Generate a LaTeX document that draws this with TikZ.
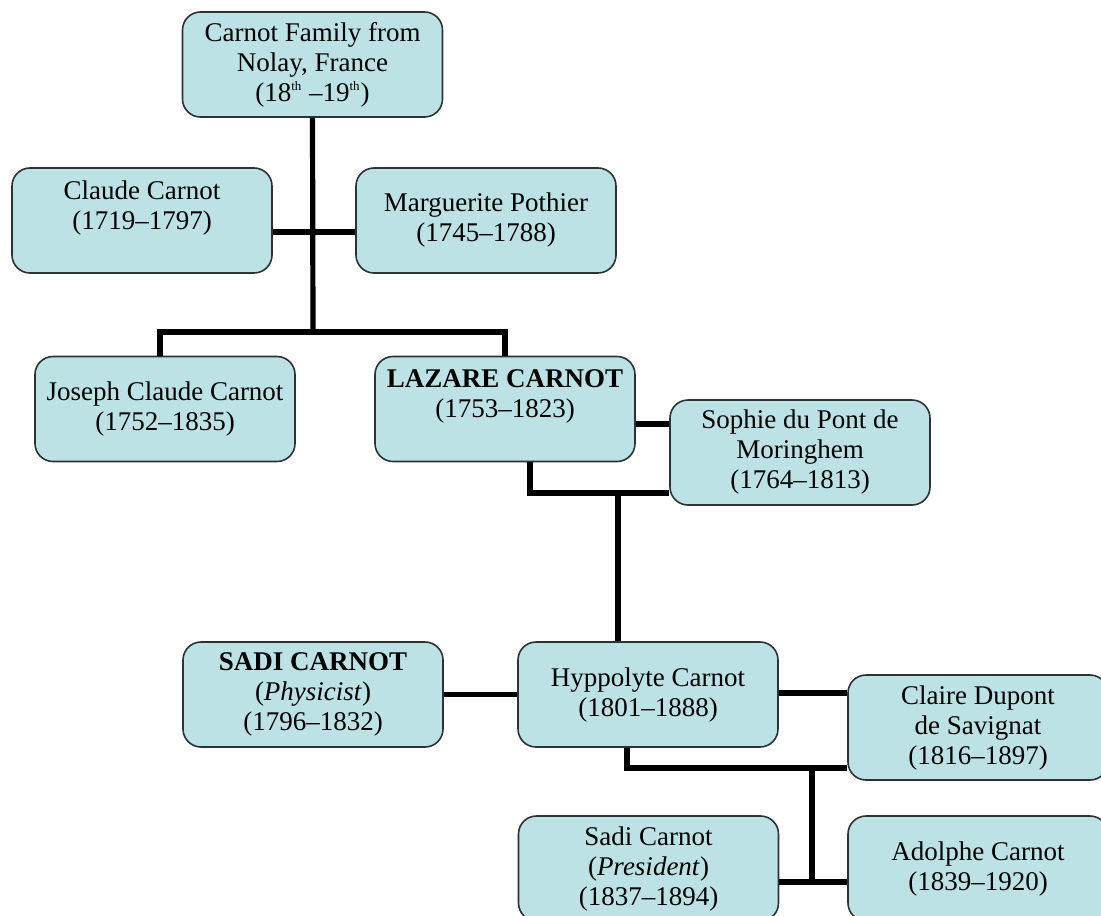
\documentclass[tikz,border=0pt]{standalone}
\usepackage{fontspec}
\setmainfont{Liberation Serif}
\definecolor{boxfill}{RGB}{188,226,229}
\definecolor{boxline}{RGB}{45,50,50}
\newcommand{\supth}{\textsuperscript{\fontsize{6.5}{6.5}\selectfont th}}

\begin{document}
\begin{tikzpicture}[x = 0.5pt, y = -0.5pt,
    person/.style = {shape = rectangle, rounded corners = 9pt, draw = boxline, line width = 0.8pt,
        fill = boxfill, minimum width = 130pt, minimum height = 52.5pt, inner sep = 2pt,
        align = center, font = \fontsize{13.5}{15}\selectfont},
    link/.style = {line width = 2.6pt}]
    \useasboundingbox (0,0) rectangle (1101,915);

    \node [person] (F) at (312.5,64.5) {Carnot Family from\\ Nolay, France\\ (18\supth{} --19\supth)};
    \node [person] (CC) at (142,220.5) {Claude Carnot\\ (1719--1797)\\ ~};
    \node [person] (MP) at (486,220.5) {Marguerite Pothier\\ (1745--1788)};
    \node [person] (JC) at (165,409) {Joseph Claude Carnot\\ (1752--1835)};
    \node [person] (LC) at (505,409) {\textbf{LAZARE CARNOT}\\ (1753--1823)\\ ~};
    \node [person] (SP) at (800,452.5) {Sophie du Pont de\\ Moringhem\\ (1764--1813)};
    \node [person] (SC) at (313,694.5) {\textbf{SADI CARNOT}\\ (\textit{Physicist})\\ (1796--1832)};
    \node [person] (HC) at (648,694.5) {Hyppolyte Carnot\\ (1801--1888)};
    \node [person] (CD) at (978,727.5) {Claire Dupont\\ de Savignat\\ (1816--1897)};
    \node [person] (SPr) at (648.5,868.5) {Sadi Carnot\\ (\textit{President})\\ (1837--1894)};
    \node [person] (AC) at (978,868.5) {Adolphe Carnot\\ (1839--1920)};

    \coordinate (fj) at (313,332);
    \coordinate (lj) at (618,493);
    \coordinate (hj) at (812,768);
    \coordinate (kj) at (812,882);

    \draw [link] (F.south) -- (fj);
    \draw [link] ([yshift = -5.75pt]CC.east) -- ([yshift = -5.75pt]MP.west);
    \draw [link] (fj) -| ([xshift = -2.5pt]JC.north);
    \draw [link] (fj) -| (LC.north);
    \draw [link] ([yshift = -7.5pt]LC.east) -- ([yshift = -7.5pt]LC.east -| SP.west);
    \draw [link] ([xshift = 12.5pt]LC.south) |- (lj -| SP.west);
    \draw [link] (lj) -- (lj |- HC.north);
    \draw [link] (SC.east) -- (HC.west);
    \draw [link] ([yshift = 0.75pt]HC.east) -- ([yshift = 0.75pt]HC.east -| CD.west);
    \draw [link] ([xshift = -10.5pt]HC.south) |- (hj -| CD.west);
    \draw [link] ([yshift = 1pt]hj) -- ([yshift = -1pt]kj);
    \draw [link] (kj -| SPr.east) -- (kj -| AC.west);
\end{tikzpicture}
\end{document}
